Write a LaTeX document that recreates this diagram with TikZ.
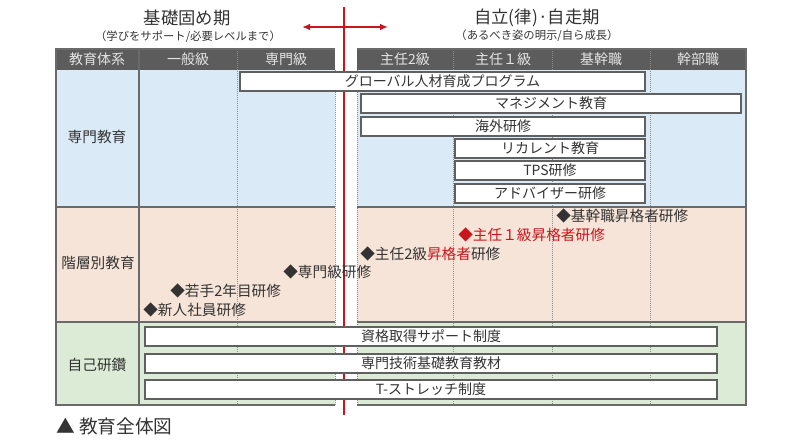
\documentclass[tikz,border=0pt]{standalone}
\usepackage{fontspec}
\usepackage{xcolor}
\usepackage{tikz}
\usetikzlibrary{arrows.meta}
\newfontfamily\jpfont{Noto Sans CJK JP}
\definecolor{bluebg}{HTML}{DBEAF7}
\definecolor{peachbg}{HTML}{F7E4D8}
\definecolor{greenbg}{HTML}{DCEBD6}
\definecolor{hdgray}{HTML}{5C5C5C}
\definecolor{hdtext}{HTML}{E4E4E4}
\definecolor{linegray}{HTML}{6A6A6A}
\definecolor{gridgray}{HTML}{8C8C8C}
\definecolor{boxgray}{HTML}{606060}
\definecolor{txtgray}{HTML}{333333}
\definecolor{redline}{HTML}{C8161D}

\begin{document}
\begin{tikzpicture}[x=0.75pt,y=-0.75pt,
      every node/.style={font=\jpfont, text=txtgray, inner sep=0pt},
      ttl/.style={font=\jpfont\fontsize{13}{15}\selectfont},
      subttl/.style={font=\jpfont\fontsize{8.5}{10}\selectfont},
      hd/.style={font=\jpfont\fontsize{10.5}{12}\selectfont, text=hdtext},
      sect/.style={font=\jpfont\fontsize{11}{13}\selectfont},
      prog/.style={draw=boxgray, line width=0.8pt, fill=white,
        minimum height=14.25pt, font=\jpfont\fontsize{10.5}{12}\selectfont},
      item/.style={anchor=west, font=\jpfont\fontsize{11}{13}\selectfont},
      grid/.style={draw=gridgray, densely dotted, line width=0.5pt}]
      \useasboundingbox (0,0) rectangle (791,444);

      % backgrounds
      \fill[bluebg] (56,70) rectangle (746,207);
      \fill[peachbg] (56,207) rectangle (746,322);
      \fill[greenbg] (56,322) rectangle (746,405);
      \fill[hdgray] (56,49) rectangle (746,70);
      \fill[white] (335,45) rectangle (357,410);

      % grid
      \foreach \x in {237,453,552,650}
        \draw[grid] (\x,49) -- (\x,405);
      \foreach \x in {335,357}
        \draw[grid] (\x,70) -- (\x,405);
      \draw[linegray, line width=0.8pt] (139,49) -- (139,405);
      \foreach \y in {207,322} {
        \draw[linegray, line width=0.8pt] (56,\y) -- (335,\y);
        \draw[linegray, line width=0.8pt] (357,\y) -- (746,\y);
      }
      \draw[linegray, line width=0.8pt] (335,49) -- (56,49) -- (56,405) -- (335,405);
      \draw[linegray, line width=0.8pt] (357,49) -- (746,49) -- (746,405) -- (357,405);

      % red divider
      \coordinate (rtop) at (344,7);
      \coordinate (rbot) at (344,415);
      \coordinate (al) at (302,27);
      \coordinate (ar) at (388,27);
      \draw[redline, line width=2.2pt] (rtop) -- (rbot);
      \draw[redline, line width=1.2pt, {Latex[length=6pt,width=5pt]}-{Latex[length=6pt,width=5pt]}] (al) -- (ar);

      % titles
      \node[ttl] (ttlL) at (187,18) {基礎固め期};
      \node[subttl] (subL) at (188,37) {（学びをサポート/必要レベルまで）};
      \node[ttl] (ttlR) at (537,18) {自立(律)·自走期};
      \node[subttl] (subR) at (537,36) {（あるべき姿の明示/自ら成長）};

      % header
      \node[hd] (hsys) at (97,59.5) {教育体系};
      \node[hd] (hgen) at (188,59.5) {一般級};
      \node[hd] (hsen) at (286,59.5) {専門級};
      \node[hd] (hsh2) at (405,59.5) {主任2級};
      \node[hd] (hsh1) at (503,59.5) {主任１級};
      \node[hd] (hkik) at (601,59.5) {基幹職};
      \node[hd] (hkan) at (698,59.5) {幹部職};

      % sections
      \node[sect] (sSen) at (97,137) {専門教育};
      \node[sect] (sKai) at (98,263) {階層別教育};
      \node[sect] (sJik) at (97,365) {自己研鑽};

      % 専門教育
      \node[prog, minimum width=303.75pt] (glb) at (442.5,81.5) {グローバル人材育成プログラム};
      \node[prog, minimum width=285pt] (mgmt) at (551,103.5) {マネジメント教育};
      \node[prog, minimum width=213pt] (kaigai) at (503,126.5) {海外研修};
      \node[prog, minimum width=142.5pt] (recur) at (550,148.5) {リカレント教育};
      \node[prog, minimum width=142.5pt] (tps) at (550,170.5) {TPS研修};
      \node[prog, minimum width=142.5pt] (adv) at (550,193.5) {アドバイザー研修};

      % 階層別教育
      \node[item] (shinjin) at (143,310) {◆新人社員研修};
      \node[item] (wakate) at (170,291) {◆若手2年目研修};
      \node[item] (senkyu) at (283,272) {◆専門級研修};
      \node[item] (shunin2) at (360,254) {◆主任2級\textcolor{redline}{昇格者}研修};
      \node[item, text=redline] (shunin1) at (458,235) {◆主任１級昇格者研修};
      \node[item] (kikan) at (556,216) {◆基幹職昇格者研修};

      % 自己研鑽
      \node[prog, minimum width=429pt] (shikaku) at (431,336.5) {資格取得サポート制度};
      \node[prog, minimum width=429pt] (kiso) at (431,363.5) {専門技術基礎教育教材};
      \node[prog, minimum width=429pt] (tstr) at (431,389.5) {T-ストレッチ制度};

      \node[anchor=west, font=\jpfont\fontsize{14}{16}\selectfont] (cap) at (56,426) {▲ 教育全体図};
      % \noindent
\end{tikzpicture}
\end{document}
